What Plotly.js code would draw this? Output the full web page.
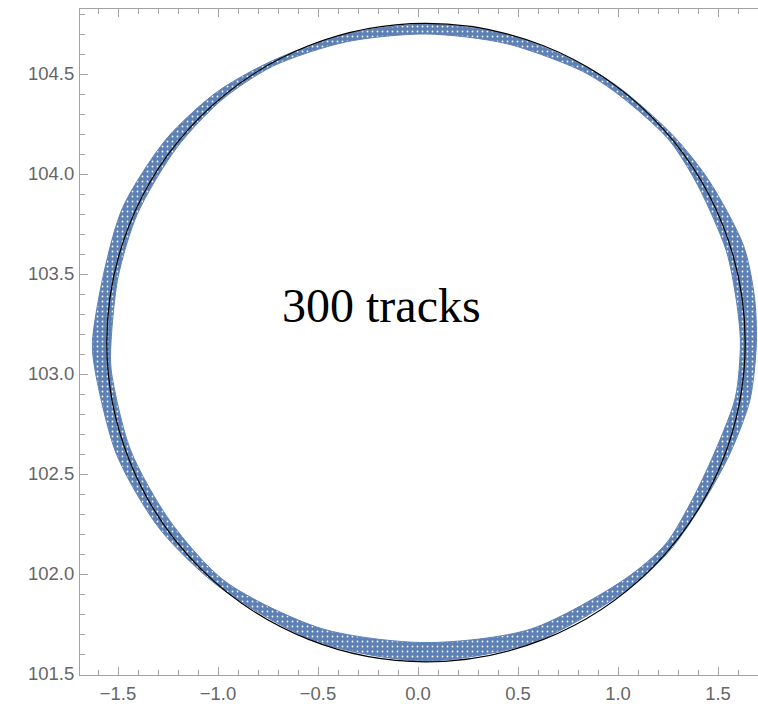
<!DOCTYPE html>
<html>
<head>
<meta charset="utf-8">
<script src="https://cdn.plot.ly/plotly-3.0.1.min.js"></script>
<style>
  html, body { margin: 0; padding: 0; background: #ffffff; }
  #chart { width: 758px; height: 704px; }
</style>
</head>
<body>
<div id="chart"></div>
<script>
// Reference circle (fitted track circle)
const circleCenterX = 0.04;
const circleCenterY = 103.157;
const circleRadius = 1.596;

// Band of reconstructed hits from 300 tracks, described about the circle centre:
// polar angle (degrees), inner and outer radius of the band
const bandAngleDeg = [0, 8, 17, 30, 40, 52, 60, 75, 90, 105, 119, 130, 142, 156,
                      168, 180, 185, 200, 215, 230, 250, 270, 290, 310, 320, 330, 340, 350];
const bandInnerR = [1.572, 1.566, 1.570, 1.570, 1.582, 1.570, 1.566, 1.548, 1.543, 1.556,
                    1.580, 1.586, 1.582, 1.580, 1.574, 1.575, 1.580, 1.572, 1.560, 1.560,
                    1.522, 1.500, 1.525, 1.545, 1.565, 1.545, 1.545, 1.571];
const bandOuterR = [1.652, 1.658, 1.660, 1.630, 1.612, 1.600, 1.596, 1.594, 1.592, 1.594,
                    1.606, 1.632, 1.650, 1.660, 1.648, 1.668, 1.660, 1.645, 1.625, 1.600,
                    1.592, 1.592, 1.592, 1.596, 1.602, 1.600, 1.618, 1.645];

// Axis ranges and label
const xRange = [-1.69, 1.70];
const yRange = [101.495, 104.825];
const labelText = '300 tracks';
const labelX = -0.1825;
const labelY = 103.345;

const hitBlue = '#5e81b5';
const frameGray = '#a3a3a3';
const tickLabelGray = '#666666';

// Closed outline of a band edge, built from the polar samples
function bandLoop(radii) {
  const xs = [], ys = [];
  for (let i = 0; i <= bandAngleDeg.length; i++) {
    const k = i % bandAngleDeg.length;
    const a = bandAngleDeg[k] * Math.PI / 180;
    xs.push(circleCenterX + radii[k] * Math.cos(a));
    ys.push(circleCenterY + radii[k] * Math.sin(a));
  }
  return { xs, ys };
}

const outer = bandLoop(bandOuterR);
const inner = bandLoop(bandInnerR);

const traces = [
  {
    x: outer.xs, y: outer.ys,
    type: 'scatter', mode: 'lines',
    line: { color: hitBlue, width: 1, shape: 'spline', smoothing: 0.8 },
    hoverinfo: 'skip', showlegend: false
  },
  {
    x: inner.xs, y: inner.ys,
    type: 'scatter', mode: 'lines',
    fill: 'tonext',
    fillcolor: hitBlue,
    fillpattern: { shape: '.', bgcolor: hitBlue, fgcolor: '#ffffff', size: 5, solidity: 0.1 },
    line: { color: hitBlue, width: 1, shape: 'spline', smoothing: 0.8 },
    hoverinfo: 'skip', showlegend: false
  }
];

const axisFont = { family: 'Liberation Sans, Arial, sans-serif', size: 18.5, color: tickLabelGray };

const layout = {
  width: 758,
  height: 704,
  margin: { l: 80, r: 0, t: 9, b: 29 },
  paper_bgcolor: '#ffffff',
  plot_bgcolor: '#ffffff',
  showlegend: false,
  hovermode: false,
  xaxis: {
    range: xRange,
    tick0: 0, dtick: 0.5, tickformat: '.1f',
    ticks: 'inside', ticklen: 8, tickwidth: 1, tickcolor: frameGray,
    ticklabelstandoff: 2,
    minor: { ticks: 'inside', ticklen: 5, dtick: 0.1, tick0: 0, tickcolor: frameGray, tickwidth: 1 },
    showline: true, linecolor: frameGray, linewidth: 1, mirror: 'ticks',
    showgrid: false, zeroline: false,
    tickfont: axisFont
  },
  yaxis: {
    range: yRange,
    tick0: 101.5, dtick: 0.5, tickformat: '.1f',
    ticks: 'inside', ticklen: 8, tickwidth: 1, tickcolor: frameGray,
    ticklabelstandoff: 1,
    minor: { ticks: 'inside', ticklen: 5, dtick: 0.1, tick0: 101.5, tickcolor: frameGray, tickwidth: 1 },
    showline: true, linecolor: frameGray, linewidth: 1, mirror: false,
    showgrid: false, zeroline: false,
    tickfont: axisFont
  },
  shapes: [
    {
      type: 'circle', xref: 'x', yref: 'y', layer: 'above',
      x0: circleCenterX - circleRadius, x1: circleCenterX + circleRadius,
      y0: circleCenterY - circleRadius, y1: circleCenterY + circleRadius,
      line: { color: '#000000', width: 1.2 }
    }
  ],
  annotations: [
    {
      x: labelX, y: labelY, xref: 'x', yref: 'y',
      text: labelText, showarrow: false,
      font: { family: 'Liberation Serif, Times New Roman, serif', size: 48, color: '#000000' }
    }
  ]
};

Plotly.newPlot('chart', traces, layout, { displayModeBar: false, staticPlot: true });
</script>
</body>
</html>
